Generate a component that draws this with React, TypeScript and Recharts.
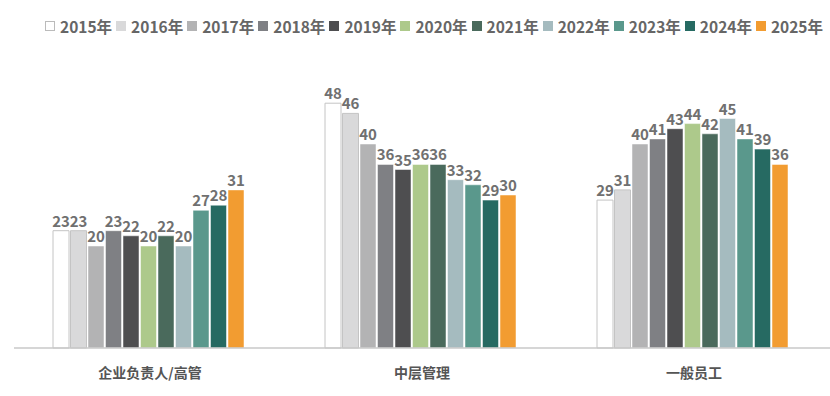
import React from "react";
import { BarChart, Bar, XAxis, YAxis, LabelList } from "recharts";

const categories = ["企业负责人/高管", "中层管理", "一般员工"];
const years = ["2015年", "2016年", "2017年", "2018年", "2019年", "2020年", "2021年", "2022年", "2023年", "2024年", "2025年"];

// values per year: [高管, 中层, 一般员工]
const v2015 = [23, 48, 29];
const v2016 = [23, 46, 31];
const v2017 = [20, 40, 40];
const v2018 = [23, 36, 41];
const v2019 = [22, 35, 43];
const v2020 = [20, 36, 44];
const v2021 = [22, 36, 42];
const v2022 = [20, 33, 45];
const v2023 = [27, 32, 41];
const v2024 = [28, 29, 39];
const v2025 = [31, 30, 36];

const seriesValues = [v2015, v2016, v2017, v2018, v2019, v2020, v2021, v2022, v2023, v2024, v2025];
const colors = ["#ffffff", "#d9d9da", "#b3b3b4", "#7f8084", "#4e4e50", "#adc98b", "#4a6a5c", "#a5bbbf", "#5a988c", "#266a62", "#f29c31"];
const strokes = ["#c4c4c4", "#c4c4c4"];

const data = categories.map((name, i) => {
  const row: Record<string, string | number> = { name };
  years.forEach((y, j) => {
    row[y] = seriesValues[j][i];
  });
  return row;
});

const font = '"Noto Sans CJK SC", "Noto Sans", sans-serif';

const Legend = () => (
  <div
    style={{
      position: "absolute",
      top: 16,
      left: 45,
      display: "flex",
      fontFamily: font,
      fontWeight: 700,
      fontSize: 15.5,
      color: "#666",
      lineHeight: "20px",
    }}
  >
    {years.map((y, i) => (
      <div key={y} style={{ display: "flex", alignItems: "center", marginRight: 4 }}>
        <span
          style={{
            display: "inline-block",
            width: 10,
            height: 10,
            background: colors[i],
            border: i === 0 ? "1px solid #bbb" : "none",
            boxSizing: "border-box",
            marginRight: 5,
          }}
        />
        <span>{y}</span>
      </div>
    ))}
  </div>
);

const App = () => {
  return (
    <div style={{ position: "absolute", left: 0, top: 0, width: 830, height: 396, background: "#fff" }}>
      <BarChart
        width={830}
        height={396}
        data={data}
        margin={{ top: 42, right: 0, left: 14, bottom: 18 }}
        barCategoryGap={39}
        barGap={1.5}
      >
        <XAxis
          dataKey="name"
          axisLine={{ stroke: "#c8c8c8", strokeWidth: 1.5 }}
          tickLine={false}
          height={30}
          tick={{ fill: "#555", fontSize: 14, fontWeight: 700, fontFamily: font }}
          tickMargin={14}
        />
        <YAxis hide domain={[0, 60]} />
        {years.map((y, i) => (
          <Bar
            key={y}
            dataKey={y}
            fill={colors[i]}
            stroke={i < 2 ? strokes[i] : "#ffffff"}
            strokeWidth={i < 2 ? 1 : 0.5}
            isAnimationActive={false}
          >
            <LabelList
              dataKey={y}
              position="top"
              offset={4}
              style={{ fill: "#707070", fontSize: 15, fontWeight: 700, fontFamily: font }}
            />
          </Bar>
        ))}
      </BarChart>
      <Legend />
    </div>
  );
};

export default App;
